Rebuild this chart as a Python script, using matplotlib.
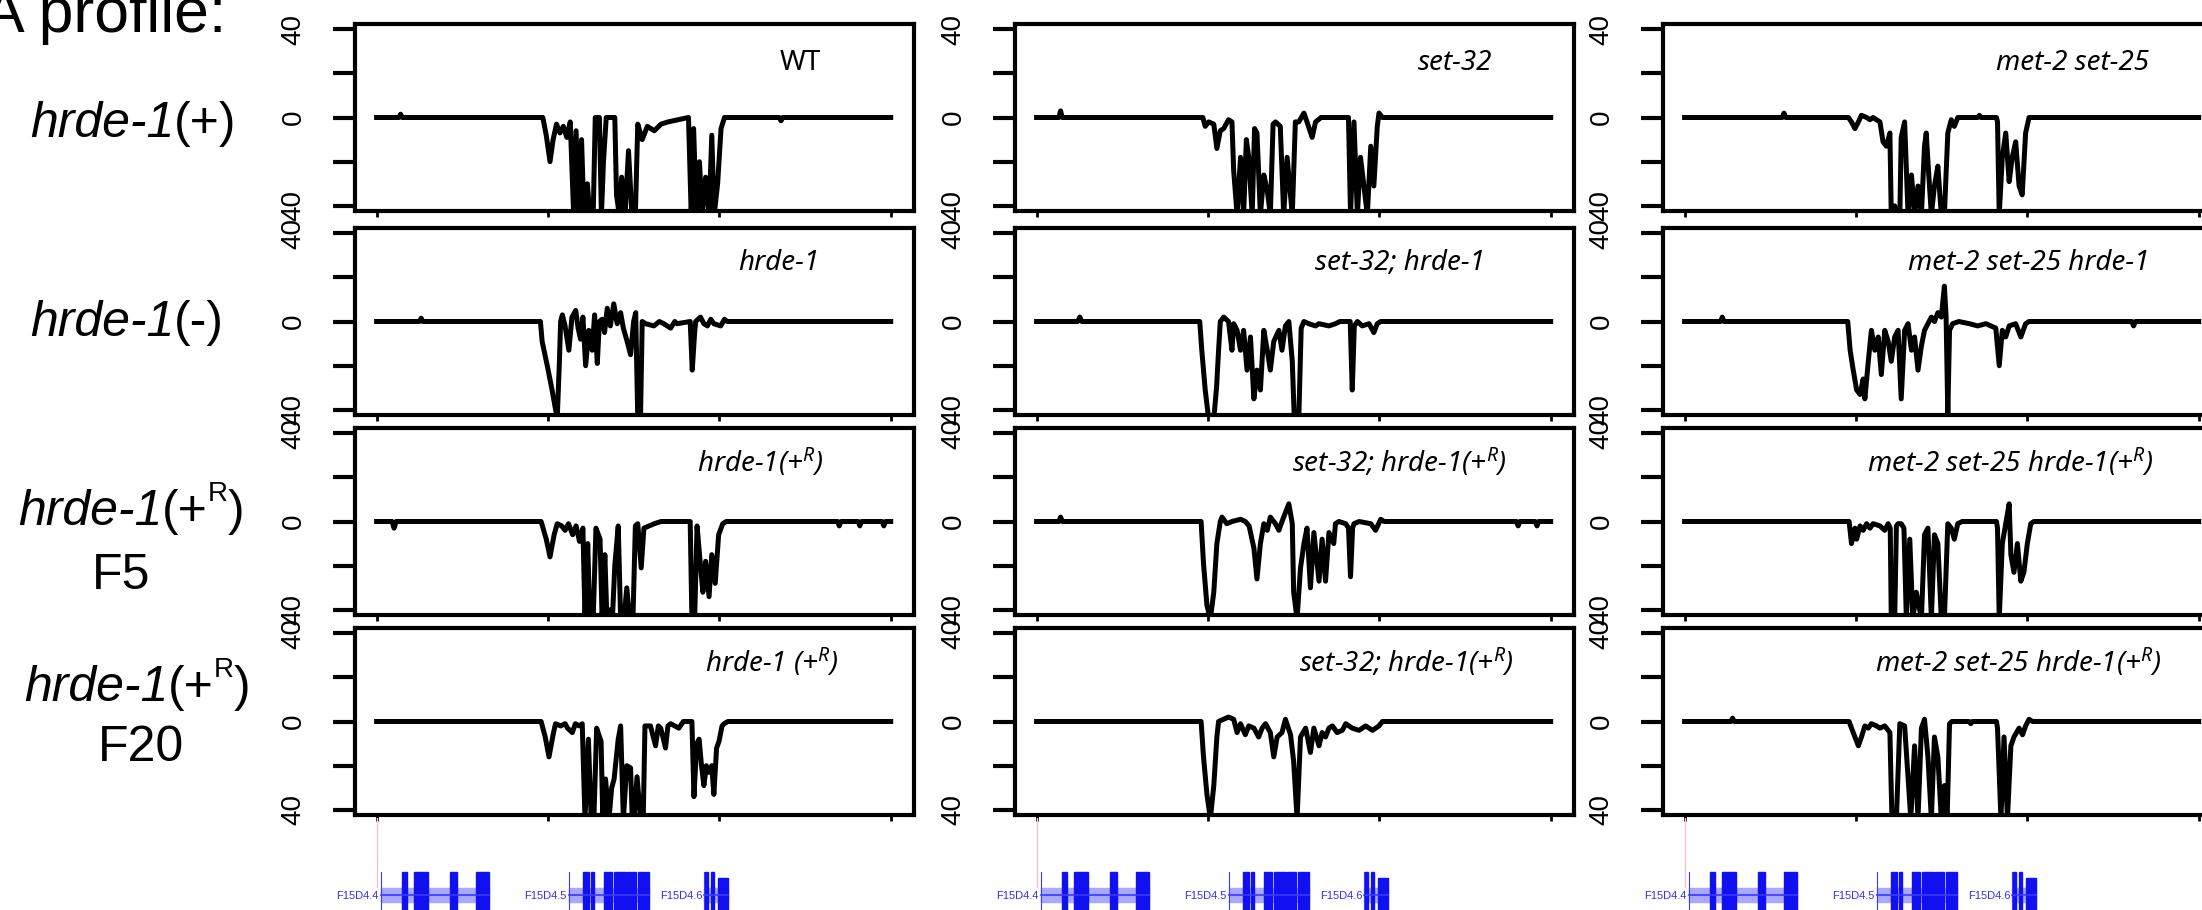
import numpy as np
import matplotlib.pyplot as plt
from matplotlib.patches import Rectangle

# small RNA profiles along the F15D4 region (kb, signal); -44 means off the scale
wt = [(0, 0), (0.65, 0), (0.7, 1.5), (0.75, 0), (4.85, 0), (4.95, -8), (5.06, -20), (5.15, -10),
      (5.25, -3), (5.35, -7), (5.45, -4), (5.55, -9), (5.65, -2), (5.75, -44), (5.82, -6), (5.9, -44),
      (5.98, -10), (6.05, -44), (6.15, -30), (6.22, -44), (6.32, -44), (6.38, 0), (6.5, 0), (6.56, -44),
      (6.62, -20), (6.7, 0), (6.95, 0), (7.0, -35), (7.08, -44), (7.15, -27), (7.25, -44), (7.35, -15),
      (7.45, -44), (7.55, -44), (7.62, -3), (7.75, -10), (7.9, -4), (8.1, -6), (8.3, -3), (8.5, -2),
      (8.8, -1), (9.1, 0), (9.18, -44), (9.25, -5), (9.33, -44), (9.42, -20), (9.5, -44), (9.6, -27),
      (9.7, -44), (9.78, -8), (9.85, -44), (9.95, -30), (10.05, -5), (10.15, 0), (11.75, 0),
      (11.8, -1.5), (11.85, 0), (15, 0)]
hrde1 = [(0, 0), (1.25, 0), (1.3, 1.5), (1.35, 0), (4.78, 0), (4.83, -9), (4.98, -20), (5.12, -31),
         (5.27, -44), (5.33, -20), (5.37, 0), (5.42, 3), (5.5, -2), (5.61, -13), (5.7, 2), (5.81, 5),
         (5.88, -3), (5.95, -8), (6.02, 2), (6.1, -20), (6.19, -4), (6.29, -13), (6.36, 3), (6.44, -19),
         (6.5, 0), (6.58, 1), (6.65, -5), (6.73, 6), (6.82, -2), (6.92, 8), (7.02, -1), (7.12, 4),
         (7.2, -3), (7.31, -9), (7.41, -15), (7.5, 0), (7.56, 4), (7.62, -44), (7.7, -44), (7.75, 0),
         (7.85, -1), (8.09, -2), (8.25, 0), (8.38, -1), (8.58, -3), (8.7, 0), (8.77, -1), (9.15, 0),
         (9.21, -22), (9.28, -5), (9.31, 0), (9.45, 2), (9.55, -1), (9.65, -2), (9.75, 1), (9.84, -1),
         (10.04, -2), (10.15, 1), (10.23, 0), (15, 0)]
hrde1_r_f5 = [(0, 0), (0.45, 0), (0.51, -3), (0.57, 0), (4.8, 0), (4.95, -8), (5.06, -16), (5.18, -6),
              (5.27, -1), (5.4, -2), (5.5, -4), (5.6, -1), (5.72, -6), (5.82, -2), (5.92, -9), (6.02, -3),
              (6.08, -44), (6.16, -10), (6.22, -44), (6.32, -44), (6.4, -3), (6.52, -8), (6.58, -44),
              (6.66, -15), (6.72, -44), (6.8, -40), (6.88, -44), (6.95, -20), (7.05, -2), (7.12, -44),
              (7.22, -44), (7.3, -30), (7.38, -44), (7.48, -44), (7.55, -2), (7.62, -1), (7.72, -21),
              (7.8, -3), (7.95, -2), (8.1, -1), (8.3, 0), (9.15, 0), (9.2, -44), (9.28, -44), (9.35, -2),
              (9.45, -20), (9.52, -32), (9.6, -18), (9.7, -34), (9.78, -15), (9.88, -28), (9.98, -6),
              (10.1, -1), (10.2, 0), (13.45, 0), (13.5, -2), (13.55, 0), (14.05, 0), (14.1, -2),
              (14.15, 0), (14.75, 0), (14.8, -2), (14.85, 0), (15, 0)]
hrde1_r_f20 = [(0, 0), (4.8, 0), (4.92, -7), (5.03, -16), (5.15, -6), (5.22, -1), (5.37, -2), (5.5, -1),
               (5.57, -3), (5.71, -5), (5.8, -1), (5.91, -2), (6.0, -1), (6.08, -44), (6.18, -8),
               (6.26, -44), (6.34, -44), (6.42, -3), (6.55, -9), (6.6, -44), (6.68, -26), (6.78, -44),
               (6.86, -30), (6.93, -26), (7.05, -8), (7.12, -2), (7.2, -44), (7.3, -20), (7.41, -21),
               (7.46, -44), (7.51, -44), (7.6, -25), (7.7, -44), (7.78, -44), (7.83, -2), (7.99, -2),
               (8.14, -11), (8.22, -2), (8.29, -3), (8.43, -12), (8.5, -2), (8.58, -1), (8.82, -3),
               (8.95, 0), (9.2, 0), (9.26, -34), (9.34, -10), (9.41, -8), (9.48, -20), (9.55, -29),
               (9.62, -20), (9.7, -23), (9.78, -20), (9.84, -33), (9.92, -12), (9.99, -9), (10.08, -2),
               (10.14, -1), (10.25, 0), (15, 0)]

set32 = [(0, 0), (0.65, 0), (0.7, 3), (0.75, 0), (4.85, 0), (4.92, -4), (5.02, -2), (5.17, -3),
         (5.26, -14), (5.36, -6), (5.46, -5), (5.6, -1), (5.7, -2), (5.75, -24), (5.85, -44), (5.95, -18),
         (6.04, -44), (6.12, -10), (6.19, -18), (6.29, -44), (6.36, -5), (6.43, -7), (6.53, -44),
         (6.63, -26), (6.73, -33), (6.82, -44), (6.9, -3), (6.97, -2), (7.11, -4), (7.21, -44),
         (7.31, -18), (7.46, -44), (7.55, -2), (7.65, -2), (7.8, 2), (7.89, -2), (8.04, -9), (8.14, -2),
         (8.3, 0), (9.1, 0), (9.16, -44), (9.26, -2), (9.36, -44), (9.45, -18), (9.55, -31), (9.65, -44),
         (9.75, -13), (9.84, -31), (9.94, -4), (9.99, 2), (10.09, 0), (15, 0)]
set32_hrde1 = [(0, 0), (1.2, 0), (1.26, 2), (1.32, 0), (4.76, 0), (4.82, -13), (4.92, -31), (5.02, -44),
               (5.17, -44), (5.25, -30), (5.31, -13), (5.36, 0), (5.46, 2), (5.6, 0), (5.7, -13),
               (5.75, -1), (5.85, -4), (5.95, -13), (6.04, -4), (6.14, -22), (6.24, -7), (6.34, -35),
               (6.43, -22), (6.53, -31), (6.63, -4), (6.73, -13), (6.82, -22), (6.92, -9), (7.07, -4),
               (7.16, -13), (7.26, -2), (7.36, 0), (7.46, -18), (7.52, -44), (7.65, -44), (7.72, -3),
               (7.8, 0), (7.94, -1), (8.14, -2), (8.24, -1), (8.53, -2), (8.72, -1), (8.85, 0), (9.15, 0),
               (9.21, -31), (9.27, -2), (9.36, 0), (9.5, -2), (9.7, -1), (9.84, -5), (9.94, -1),
               (10.04, 0), (15, 0)]
set32_hrde1_r_f5 = [(0, 0), (0.65, 0), (0.7, 2), (0.75, 0), (4.8, 0), (4.87, -19), (4.97, -38),
                    (5.07, -44), (5.17, -32), (5.26, -10), (5.36, 0), (5.41, 2), (5.55, -1), (5.7, 0),
                    (5.95, 1), (6.09, 0), (6.2, -2), (6.34, -12), (6.43, -26), (6.53, -10), (6.63, -1),
                    (6.73, -4), (6.82, 2), (6.97, -1), (7.07, -4), (7.16, 0), (7.26, 4), (7.36, 8),
                    (7.46, -1), (7.5, -32), (7.6, -44), (7.7, -21), (7.8, -10), (7.89, -3), (7.99, -30),
                    (8.09, -5), (8.24, -27), (8.33, -8), (8.43, -27), (8.53, -5), (8.67, -10), (8.72, -1),
                    (8.82, 0), (9.02, -1), (9.1, -3), (9.16, -25), (9.22, -3), (9.26, -1), (9.41, 0),
                    (9.75, -1), (9.89, -4), (10.04, 1), (10.14, 0), (14.0, 0), (14.05, -2), (14.1, 0),
                    (14.55, 0), (14.6, -2), (14.65, 0), (15, 0)]
set32_hrde1_r_f20 = [(0, 0), (4.8, 0), (4.87, -16), (4.97, -33), (5.07, -44), (5.17, -29), (5.26, -7),
                     (5.31, 0), (5.45, 1), (5.6, 2), (5.75, 1), (5.85, -5), (5.95, -1), (6.09, -6),
                     (6.19, -2), (6.34, -3), (6.48, -7), (6.58, -3), (6.68, -1), (6.82, -5), (6.92, -16),
                     (7.02, -7), (7.16, -5), (7.26, 1), (7.41, -6), (7.5, -18), (7.6, -44), (7.7, -7),
                     (7.85, -3), (7.99, -14), (8.09, -3), (8.24, -11), (8.33, -5), (8.43, -7), (8.53, -3),
                     (8.63, -2), (8.77, -5), (8.92, -4), (9.02, -1), (9.21, -3), (9.41, -4), (9.6, -2),
                     (9.8, -4), (9.99, -2), (10.09, 0), (15, 0)]

met2set25 = [(0, 0), (2.85, 0), (2.9, 2), (2.95, 0), (4.78, 0), (4.87, -2), (4.97, -5), (5.07, -2),
             (5.16, 1), (5.31, 0), (5.41, -1), (5.5, 0), (5.7, -2), (5.79, -11), (5.89, -13), (5.99, -7),
             (6.03, -44), (6.13, -40), (6.18, -44), (6.28, -44), (6.32, -9), (6.42, -2), (6.52, -44),
             (6.62, -26), (6.71, -44), (6.81, -31), (6.91, -44), (7.0, -13), (7.05, -7), (7.1, -20),
             (7.2, -44), (7.29, -31), (7.39, -22), (7.49, -44), (7.58, -44), (7.68, -7), (7.78, -1),
             (7.87, -4), (7.97, 0), (8.55, 0), (8.6, 1), (8.65, 0), (9.1, 0), (9.13, -2), (9.18, -44),
             (9.27, -18), (9.37, -7), (9.47, -29), (9.56, -18), (9.66, -11), (9.76, -31), (9.85, -35),
             (9.95, -7), (10.05, 0), (15, 0)]
met2set25_hrde1 = [(0, 0), (1.05, 0), (1.1, 2), (1.15, 0), (4.76, 0), (4.83, -13), (4.92, -22),
                   (5.02, -31), (5.12, -33), (5.21, -26), (5.26, -35), (5.36, -18), (5.45, -4),
                   (5.55, -13), (5.65, -7), (5.74, -24), (5.84, -4), (5.94, -9), (6.03, -18), (6.13, -7),
                   (6.23, -4), (6.32, -35), (6.42, -4), (6.52, -1), (6.62, -13), (6.71, -7), (6.81, -22),
                   (6.91, -11), (7.0, -4), (7.1, -1), (7.2, 2), (7.29, 0), (7.39, 4), (7.49, 2),
                   (7.58, 16), (7.63, 2), (7.68, -42), (7.73, -4), (7.82, -1), (8.0, 0), (8.31, -1),
                   (8.55, -2), (8.79, -1), (9.08, -3), (9.18, -20), (9.27, -4), (9.37, -7), (9.47, -2),
                   (9.66, -1), (9.81, -7), (9.95, -1), (10.05, 0), (13.05, 0), (13.1, -2), (13.15, 0),
                   (15, 0)]
met2set25_hrde1_r_f5 = [(0, 0), (4.8, 0), (4.87, -10), (4.97, -3), (5.02, -8), (5.12, -2), (5.21, -4),
                        (5.31, -1), (5.41, -3), (5.5, -1), (5.7, -2), (5.84, -4), (5.94, -1), (6.0, -3),
                        (6.03, -44), (6.13, -44), (6.18, -2), (6.23, -1), (6.32, -1), (6.4, -3),
                        (6.47, -44), (6.57, -8), (6.66, -44), (6.76, -32), (6.91, -44), (7.0, -6),
                        (7.1, -3), (7.2, -44), (7.29, -6), (7.39, -10), (7.49, -44), (7.58, -44),
                        (7.68, -1), (7.78, -3), (7.87, -8), (7.97, -1), (8.1, 0), (9.1, 0), (9.13, -3),
                        (9.18, -44), (9.27, -10), (9.37, -1), (9.47, 8), (9.52, -15), (9.61, -23),
                        (9.71, -10), (9.81, -27), (9.9, -23), (10.0, -10), (10.1, -1), (10.19, 0), (15, 0)]
met2set25_hrde1_r_f20 = [(0, 0), (1.35, 0), (1.4, 1.5), (1.45, 0), (4.8, 0), (4.87, -3), (4.97, -7),
                         (5.07, -11), (5.16, -7), (5.26, -2), (5.36, -3), (5.45, -1), (5.6, -2), (5.7, -3),
                         (5.84, -2), (5.99, -5), (6.05, -44), (6.18, -44), (6.28, -1), (6.42, -2),
                         (6.6, -44), (6.71, -11), (6.81, -44), (6.91, -3), (7.0, 1), (7.1, -16),
                         (7.2, -44), (7.29, -7), (7.39, -16), (7.49, -44), (7.58, -29), (7.66, -44),
                         (7.73, -1), (7.8, 0), (8.3, 0), (8.35, -1), (8.4, 0), (9.1, 0), (9.13, -3),
                         (9.23, -44), (9.32, -7), (9.42, -44), (9.52, -11), (9.61, -7), (9.76, -3),
                         (9.86, -6), (9.95, -2), (10.05, 1), (10.15, 0), (15, 0)]

profiles = [[wt, set32, met2set25],
            [hrde1, set32_hrde1, met2set25_hrde1],
            [hrde1_r_f5, set32_hrde1_r_f5, met2set25_hrde1_r_f5],
            [hrde1_r_f20, set32_hrde1_r_f20, met2set25_hrde1_r_f20]]

R = r'$^{\mathregular{R}}$'
samples = [['WT', 'set-32', 'met-2 set-25'],
           ['hrde-1', 'set-32; hrde-1', 'met-2 set-25 hrde-1'],
           ['hrde-1(+' + R + ')', 'set-32; hrde-1(+' + R + ')', 'met-2 set-25 hrde-1(+' + R + ')'],
           ['hrde-1 (+' + R + ')', 'set-32; hrde-1(+' + R + ')', 'met-2 set-25 hrde-1(+' + R + ')']]
# row labels: italic gene name, then the allele in upright type (superscript R where shown)
row_alleles = [('(+)', ''), ('(-)', ''), ('(+', 'R'), ('(+', 'R')]
generations = ['', '', 'F5', 'F20']

yticks = [-40, -20, 0, 20, 40]
ytick_labels = ['40', '', '0', '', '40']
xticks = [0, 5, 10, 15]

# gene models (kb): name, start, end, exons
gene_names = ['F15D4.4', 'F15D4.5', 'F15D4.6']
gene_start = [0.12, 5.6, 9.55]
gene_end = [3.27, 7.94, 10.25]
gene_exons = [[(0.73, 0.9), (1.08, 1.49), (2.13, 2.36), (2.89, 3.27)],
              [(6.01, 6.19), (6.25, 6.33), (6.63, 6.88), (6.93, 7.28), (7.32, 7.58), (7.62, 7.86),
               (7.9, 7.94)],
              [(9.57, 9.66), (9.75, 9.84), (9.95, 10.25)]]

plt.rcParams['font.family'] = 'Liberation Sans'
plt.rcParams['mathtext.fontset'] = 'custom'
plt.rcParams['mathtext.rm'] = 'Liberation Sans'
plt.rcParams['mathtext.it'] = 'Liberation Sans:italic'

W, H = 2202, 910
fig = plt.figure(figsize=(W / 100, H / 100), dpi=100)

col_left = [355, 1015, 1663]
row_top = [24, 228, 428, 628]
pw, ph = 559, 187
xlim = (-0.63, 15.68)

def px_axes(left, top, w, h):
    return fig.add_axes([left / W, 1 - (top + h) / H, w / W, h / H])

# sample label centres, px from panel left / top
lab_x = [[445, 440, 410], [424, 385, 366], [405, 384, 347], [417, 391, 355]]
lab_y = [39, 35, 35, 35]

for r in range(4):
    for c in range(3):
        ax = px_axes(col_left[c], row_top[r], pw, ph)
        xy = np.array(profiles[r][c])
        ax.plot(xy[:, 0], xy[:, 1], color='black', lw=3.6)
        ax.set_xlim(xlim)
        ax.set_ylim(-42.3, 42.3)
        ax.set_yticks(yticks)
        ax.set_yticklabels(ytick_labels, rotation=90, va='center', fontsize=20)
        ax.set_xticks(xticks)
        ax.set_xticklabels([])
        ax.tick_params(axis='y', length=16, width=3, pad=19)
        ax.tick_params(axis='x', length=4, width=2)
        for s in ax.spines.values():
            s.set_linewidth(3)
        ax.text(lab_x[r][c] / pw, 1 - lab_y[r] / ph, samples[r][c], transform=ax.transAxes,
                ha='center', va='center', fontsize=20, style='italic' if r + c > 0 else 'normal',
                family='Noto Sans')

# gene track under each column
for c in range(3):
    g = px_axes(col_left[c], 818, pw, 92)
    g.set_xlim(xlim)
    g.set_ylim(0, 92)
    g.axis('off')
    g.plot([0, 0], [23, 92], color='#f2c2cb', lw=1)
    for name, s, e, exons in zip(gene_names, gene_start, gene_end, gene_exons):
        g.add_patch(Rectangle((s, 8), e - s, 14, color='#a8a8ff'))
        g.plot([s, e], [15, 15], color='#3a3aff', lw=1.2)
        g.plot([s, s], [0, 38], color='#3a3aff', lw=0.8)
        for k, (a, b) in enumerate(exons):
            top = 32 if (name == 'F15D4.6' and k == 2) else 38
            g.add_patch(Rectangle((a, 0), b - a, top, color='#1010f0'))
        g.text(s - 0.05, 14, name, ha='right', va='center', fontsize=8, color='#3030ff')

# row labels on the left, built piece by piece
over = fig.add_axes([0, 0, 1, 1])
over.axis('off')
row_x = [30, 30, 18, 24]
row_y = [124, 323, 512, 688]
gen_x = [0, 0, 121, 141]
gen_y = [0, 0, 576, 748]
for r in range(4):
    t = over.annotate('hrde-1', xy=(row_x[r] / W, 1 - row_y[r] / H), xycoords='figure fraction',
                      ha='left', va='center', fontsize=36, style='italic')
    opening, sup = row_alleles[r]
    t2 = over.annotate(opening, xy=(1, 0), xycoords=t, ha='left', va='bottom', fontsize=36)
    if sup:
        t3 = over.annotate(sup, xy=(1, 0.6), xycoords=t2, ha='left', va='bottom', fontsize=20)
        over.annotate(')', xy=(1, 0), xycoords=(t3, t2), ha='left', va='bottom', fontsize=36)
    if generations[r]:
        fig.text(gen_x[r] / W, 1 - gen_y[r] / H, generations[r], ha='center', va='center', fontsize=36)

fig.text(226 / W, 1 - 32 / H, 'A profile:', ha='right', va='baseline', fontsize=45)

fig.savefig('out.png', dpi=100)
